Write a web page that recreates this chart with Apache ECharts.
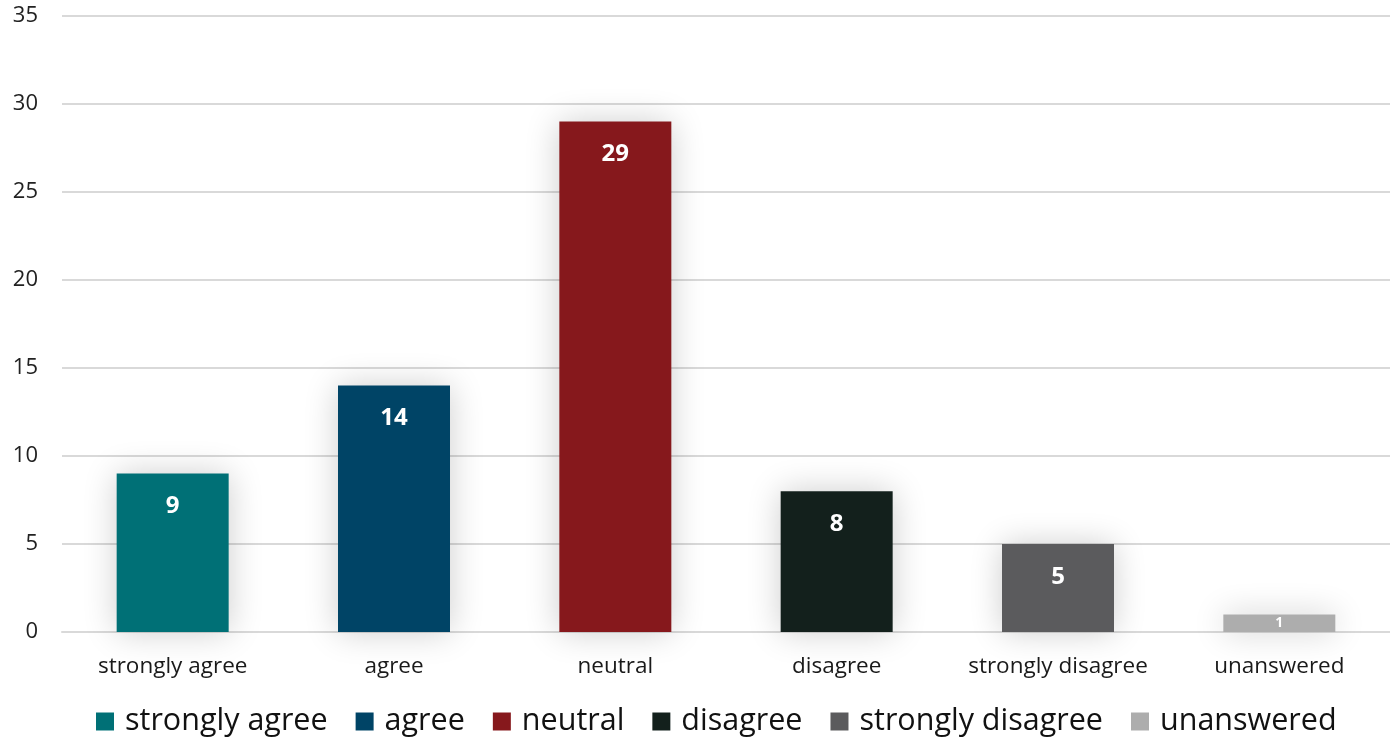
<!DOCTYPE html>
<html><head><meta charset="utf-8">
<script src="https://cdn.jsdelivr.net/npm/echarts@6/dist/echarts.min.js"></script>
<style>html,body{margin:0;padding:0;background:#fff}#c{width:1390px;height:738px}</style>
</head><body><div id="c"></div>
<script>
const categories = ['strongly agree','agree','neutral','disagree','strongly disagree','unanswered'];
const values = [9, 14, 29, 8, 5, 1];
const colors = ['#007076','#004466','#86181c','#13201c','#5b5b5d','#adadad'];
const yTicks = [0,5,10,15,20,25,30,35];

const font = '"Open Sans", "Noto Sans", sans-serif';
const chart = echarts.init(document.getElementById('c'));
const series = categories.map((name, i) => ({
  name: name,
  type: 'bar',
  stack: 'all',
  barWidth: 112,
  data: values.map((v, j) => j === i ? v : '-'),
  itemStyle: { color: colors[i], shadowColor: 'rgba(0,0,0,0.2)', shadowBlur: 32 },
  label: {
    show: true, position: 'insideTop', distance: i === 5 ? 2 : 21,
    color: '#fff', fontWeight: 'bold', fontFamily: font,
    fontSize: i === 5 ? 14 : 24
  }
}));
chart.setOption({
  animation: false,
  textStyle: { fontFamily: font },
  grid: { left: 62, right: 0, top: 16, bottom: 106 },
  legend: {
    bottom: -4, left: 91, itemWidth: 18, itemHeight: 18, itemGap: 28,
    icon: 'rect',
    textStyle: { fontSize: 30.5, color: '#111', fontFamily: font, padding: [0, 0, 0, 6] },
    data: categories
  },
  xAxis: {
    type: 'category', data: categories,
    axisTick: { show: false },
    axisLine: { lineStyle: { color: '#d9d9d9', width: 2 } },
    axisLabel: { fontSize: 22.5, color: '#1a1a1a', margin: 23, interval: 0 }
  },
  yAxis: {
    type: 'value', min: 0, max: 35, interval: 5,
    axisLabel: { fontSize: 22, color: '#222', margin: 24 },
    splitLine: { lineStyle: { color: '#d9d9d9', width: 2 } }
  },
  series: series
});
</script></body></html>
